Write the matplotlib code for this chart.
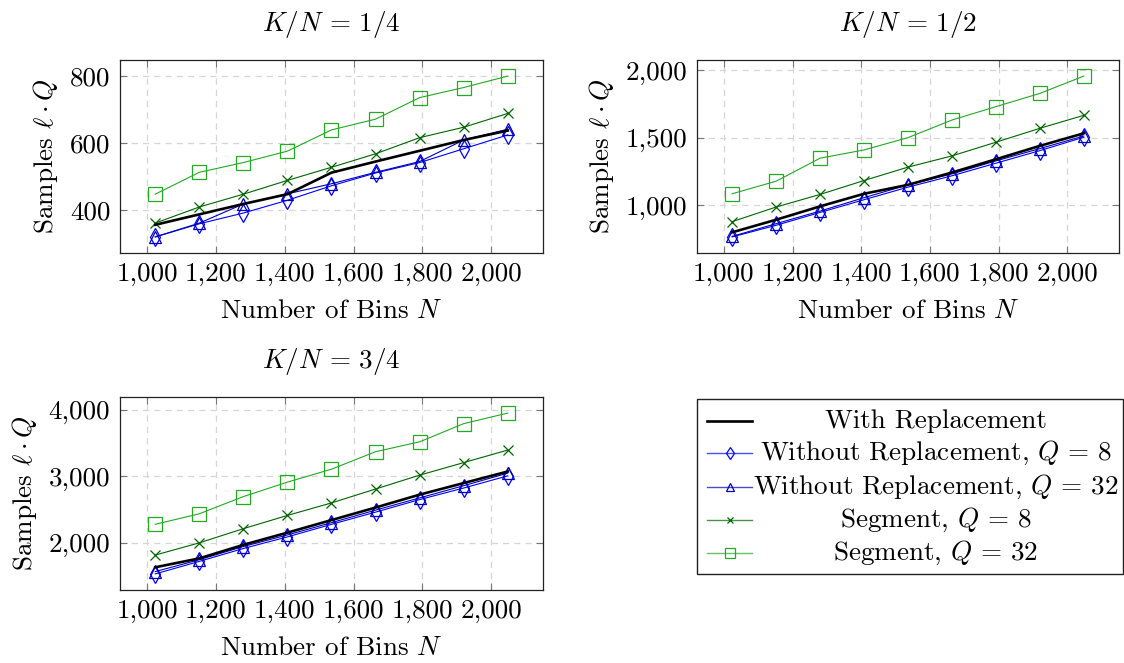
import matplotlib
matplotlib.use("Agg")
import matplotlib.pyplot as plt
from matplotlib.ticker import FuncFormatter, FixedLocator
from matplotlib.patches import Rectangle

plt.rcParams['font.family'] = ['cmr10', 'DejaVu Serif']
plt.rcParams['mathtext.fontset'] = 'cm'
plt.rcParams['axes.formatter.use_mathtext'] = True
plt.rcParams['axes.unicode_minus'] = False

# ---------------- data ----------------
bins_N = [1024, 1152, 1280, 1408, 1536, 1664, 1792, 1920, 2048]

titles = [r"$K/N \,=\, 1/4$", r"$K/N \,=\, 1/2$", r"$K/N \,=\, 3/4$"]

# K/N = 1/4
p1_with_rep = [357, 388, 419, 448, 512, 545, 577, 609, 637]
p1_wo_q8 = [321, 360, 392, 430, 473, 511, 542, 583, 624]
p1_wo_q32 = [321, 362, 419, 449, 479, 513, 545, 609, 641]
p1_seg_q8 = [362, 410, 448, 489, 528, 568, 616, 647, 688]
p1_seg_q32 = [448, 513, 542, 576, 639, 671, 735, 765, 799]

# K/N = 1/2
p2_with_rep = [801, 894, 993, 1086, 1152, 1243, 1341, 1440, 1533]
p2_wo_q8 = [767, 853, 948, 1042, 1135, 1219, 1312, 1405, 1504]
p2_wo_q32 = [771, 865, 958, 1057, 1152, 1233, 1329, 1420, 1513]
p2_seg_q8 = [880, 988, 1081, 1184, 1283, 1366, 1467, 1570, 1666]
p2_seg_q32 = [1086, 1179, 1349, 1410, 1501, 1631, 1730, 1828, 1956]

# K/N = 3/4
p3_with_rep = [1627, 1761, 1965, 2149, 2338, 2527, 2721, 2896, 3070]
p3_wo_q8 = [1527, 1716, 1910, 2085, 2274, 2458, 2647, 2821, 3005]
p3_wo_q32 = [1562, 1741, 1940, 2114, 2299, 2488, 2672, 2856, 3045]
p3_seg_q8 = [1811, 1995, 2209, 2408, 2597, 2806, 3015, 3204, 3393]
p3_seg_q32 = [2274, 2433, 2692, 2910, 3105, 3368, 3517, 3791, 3950]

x_ticks = [1000, 1200, 1400, 1600, 1800, 2000]
y_ticks = [[400, 600, 800], [1000, 1500, 2000], [2000, 3000, 4000]]

series_labels = ["With Replacement",
                 r"Without Replacement, $Q \,=\, 8$",
                 r"Without Replacement, $Q \,=\, 32$",
                 r"Segment, $Q \,=\, 8$",
                 r"Segment, $Q \,=\, 32$"]

# ---------------- styles ----------------
styles = [
    dict(color='black', lw=1.9, marker=None),
    dict(color='#0000ff', lw=0.8, marker='d', ms=9, mfc='none', mew=0.9),
    dict(color='#0000bb', lw=0.8, marker='^', ms=8, mfc='none', mew=0.9),
    dict(color='#006400', lw=0.8, marker='x', ms=6.5, mew=0.9),
    dict(color='#22aa22', lw=0.8, marker='s', ms=10, mfc='none', mew=0.9),
]

FS = 19.5
W, H = 1124, 663
fig = plt.figure(figsize=(W / 100, H / 100), dpi=100)

def frac(l, t, r, b):
    return [l / W, 1 - b / H, (r - l) / W, (b - t) / H]

axes_rects = [frac(120, 60, 543, 253), frac(697, 60, 1119, 253), frac(120, 397, 543, 590)]
all_data = [
    [p1_with_rep, p1_wo_q8, p1_wo_q32, p1_seg_q8, p1_seg_q32],
    [p2_with_rep, p2_wo_q8, p2_wo_q32, p2_seg_q8, p2_seg_q32],
    [p3_with_rep, p3_wo_q8, p3_wo_q32, p3_seg_q8, p3_seg_q32],
]

for i in range(3):
    ax = fig.add_axes(axes_rects[i])
    data = all_data[i]
    for k in [4, 3, 1, 2, 0]:
        st = styles[k]
        ax.plot(bins_N, data[k], color=st['color'], lw=st['lw'],
                marker=st.get('marker'), ms=st.get('ms', 0),
                mfc=st.get('mfc', st['color']), mec=st['color'],
                mew=st.get('mew', 1), zorder=3 if k == 0 else 2)
    ax.margins(x=0.1, y=0.1)
    ax.xaxis.set_major_locator(FixedLocator(x_ticks))
    ax.yaxis.set_major_locator(FixedLocator(y_ticks[i]))
    fmt = FuncFormatter(lambda v, p: f"{v:,.0f}")
    ax.xaxis.set_major_formatter(fmt)
    ax.yaxis.set_major_formatter(fmt)
    ax.tick_params(direction='in', length=5, width=0.8, color='#777777',
                   top=True, right=True, labelsize=FS, pad=7)
    ax.grid(True, linestyle=(0, (5, 4)), color='#d6d6d6', lw=0.9, zorder=0)
    ax.set_axisbelow(True)
    for sp in ax.spines.values():
        sp.set_linewidth(0.9)
        sp.set_color('#222222')
    ax.set_title(titles[i], fontsize=FS, pad=21)
    ax.set_xlabel(r"Number of Bins $N$", fontsize=FS, labelpad=9)
    ax.set_ylabel(r"Samples $\ell \cdot Q$", fontsize=FS, labelpad=7)

# ---------------- legend (centered entries) ----------------
lax = fig.add_axes(frac(697, 399, 1123, 574))
lax.set_xlim(0, 1)
lax.set_ylim(0, 1)
lax.axis('off')
lax.add_patch(Rectangle((0, 0), 1, 1, transform=lax.transAxes, fill=False,
                        ec='#222222', lw=1.0, clip_on=False))
row_y = [0.872, 0.69, 0.50, 0.31, 0.12]
hx0, hx1 = 10 / 426, 55 / 426
for k in range(5):
    st = styles[k]
    y = row_y[k]
    lax.plot([hx0, hx1], [y, y], color=st['color'],
             lw=st['lw'] if k == 0 else 1.0, alpha=1.0 if k == 0 else 0.7)
    if st.get('marker'):
        lax.plot([(hx0 + hx1) / 2], [y], color=st['color'], marker=st['marker'],
                 ms=st['ms'] * 0.7, mfc=st.get('mfc', st['color']),
                 mec=st['color'], mew=st.get('mew', 1), ls='none')
    lax.text(0.56, y, series_labels[k], fontsize=FS, ha='center', va='center')

fig.savefig("out.png", dpi=100)
